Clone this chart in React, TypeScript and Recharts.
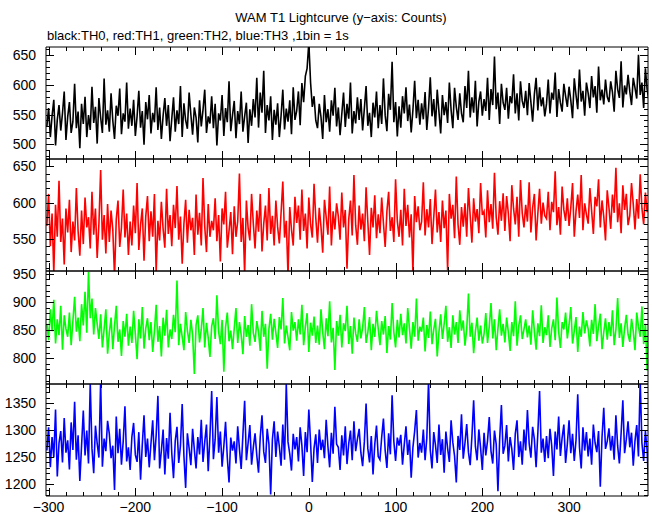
import React from "react";
import { Line, LineChart, ReferenceLine, XAxis, YAxis } from "recharts";

// counts per 2 s, starting at t = -302 s
const blackTH0 = [
  530, 561, 512, 548, 575, 498, 541, 566, 523, 552, 589, 507,
  546, 571, 519, 538, 602, 527, 555, 493, 568, 534, 580, 512,
  549, 524, 597, 536, 563, 501, 578, 545, 519, 611, 533, 557,
  521, 586, 540, 509, 565, 548, 594, 517, 552, 538, 604, 526,
  560, 531, 575, 514, 547, 590, 528, 556, 499, 571, 542, 583,
  518, 553, 537, 596, 524, 562, 509, 548, 578, 531, 566, 505,
  543, 579, 521, 557, 534, 598, 512, 569, 540, 526, 587, 550,
  516, 562, 545, 503, 574, 530, 558, 592, 519, 547, 535, 581,
  527, 568, 498, 552, 540, 583, 514, 561, 537, 606, 522, 549,
  573, 510, 556, 534, 589, 521, 547, 570, 502, 559, 531, 576,
  545, 612, 528, 587, 553, 624, 519, 566, 540, 581, 507, 558,
  533, 569, 512, 548, 592, 525, 560, 538, 574, 517, 596, 541,
  556, 589, 532, 603, 571, 615, 628, 672, 604, 563, 581, 540,
  527, 568, 546, 509, 583, 537, 559, 521, 574, 548, 595, 530,
  562, 515, 551, 587, 529, 568, 543, 604, 518, 556, 535, 579,
  541, 576, 523, 560, 598, 531, 553, 512, 570, 545, 589, 527,
  566, 534, 611, 549, 522, 585, 558, 639, 537, 571, 513, 564,
  528, 581, 552, 596, 539, 567, 520, 558, 607, 544, 575, 533,
  569, 542, 588, 524, 561, 613, 547, 576, 530, 592, 555, 518,
  583, 549, 571, 536, 604, 558, 527, 595, 563, 541, 586, 552,
  537, 598, 561, 624, 545, 579, 553, 607, 530, 572, 589, 548,
  576, 556, 612, 541, 593, 566, 648, 559, 587, 534, 602, 570,
  558, 595, 543, 581, 569, 618, 552, 586, 540, 606, 573, 561,
  590, 549, 603, 571, 538, 584, 612, 557, 596, 564, 579, 547,
  568, 609, 552, 587, 575, 621, 546, 593, 570, 555, 602, 581,
  563, 597, 574, 544, 611, 583, 559, 626, 572, 590, 548, 604,
  586, 561, 615, 579, 598, 553, 631, 574, 592, 567, 609, 580,
  571, 606, 588, 555, 624, 593, 578, 640, 562, 599, 584, 617,
  589, 566, 612, 595, 577, 651, 583, 604, 561, 628, 592, 575,
];

const redTH1 = [
  568, 612, 540, 585, 503, 597, 553, 630, 546, 578, 515, 592,
  559, 604, 532, 574, 548, 620, 561, 527, 589, 543, 607, 566,
  580, 537, 615, 556, 592, 524, 571, 645, 549, 583, 530, 598,
  546, 589, 563, 498, 577, 603, 539, 566, 618, 552, 585, 528,
  574, 541, 596, 558, 627, 535, 569, 592, 520, 581, 609, 547,
  588, 553, 612, 505, 575, 548, 601, 564, 538, 619, 557, 583,
  540, 597, 565, 623, 549, 581, 516, 571, 604, 545, 590, 562,
  579, 528, 611, 556, 586, 541, 634, 567, 532, 598, 553, 575,
  562, 606, 547, 583, 519, 592, 570, 615, 538, 561, 587, 529,
  595, 553, 574, 640, 546, 579, 502, 603, 565, 548, 612, 571,
  537, 589, 560, 612, 533, 571, 596, 548, 620, 557, 582, 541,
  603, 567, 544, 586, 629, 552, 575, 500, 594, 563, 541, 608,
  572, 596, 549, 618, 561, 585, 537, 607, 570, 552, 626, 579,
  545, 593, 567, 531, 604, 580, 556, 622, 541, 588, 563, 599,
  581, 549, 614, 566, 590, 509, 577, 603, 555, 638, 569, 542,
  596, 563, 585, 547, 621, 574, 528, 593, 566, 610, 551, 584,
  558, 607, 572, 539, 588, 615, 561, 580, 546, 632, 575, 553,
  590, 541, 619, 568, 597, 552, 584, 504, 609, 573, 595, 562,
  574, 628, 555, 591, 566, 605, 543, 580, 618, 559, 587, 546,
  603, 565, 589, 507, 612, 578, 597, 551, 636, 570, 542, 594,
  567, 599, 553, 620, 582, 545, 606, 574, 591, 558, 627, 583,
  588, 552, 617, 573, 598, 564, 641, 580, 556, 602, 575, 613,
  561, 609, 585, 547, 624, 592, 570, 608, 553, 631, 586, 566,
  597, 574, 628, 559, 593, 612, 548, 585, 619, 571, 600, 582,
  578, 615, 562, 601, 587, 643, 569, 594, 556, 622, 590, 575,
  606, 568, 593, 627, 553, 588, 611, 579, 638, 562, 599, 584,
  571, 620, 589, 557, 608, 595, 632, 566, 603, 581, 548, 617,
  593, 564, 611, 586, 648, 573, 599, 558, 624, 590, 612, 569,
  582, 627, 598, 563, 605, 578, 639, 592, 570, 614, 587, 601,
];

const greenTH2 = [
  861, 832, 887, 848, 904, 826, 869, 841, 893, 815, 876, 852,
  838, 881, 823, 866, 909, 847, 872, 830, 896, 858, 918, 845,
  953, 871, 906, 842, 889, 861, 834, 878, 819, 852, 887, 808,
  845, 872, 816, 858, 893, 829, 851, 804, 866, 838, 879, 822,
  856, 827, 884, 843, 798, 869, 835, 891, 817, 853, 871, 832,
  864, 811, 848, 895, 829, 857, 803, 872, 840, 886, 819, 851,
  834, 877, 846, 938, 823, 861, 838, 814, 882, 849, 827, 868,
  842, 772, 859, 876, 828, 851, 889, 819, 863, 836, 802, 857,
  871, 834, 912, 847, 825, 868, 776, 855, 881, 830, 849, 816,
  853, 889, 827, 864, 842, 807, 875, 838, 859, 822, 896, 845,
  829, 866, 847, 813, 884, 838, 861, 781, 852, 879, 833, 870,
  845, 818, 873, 851, 907, 826, 858, 837, 814, 882, 849, 864,
  831, 869, 842, 895, 823, 856, 880, 811, 863, 840, 874, 827,
  858, 824, 887, 846, 816, 871, 839, 901, 828, 854, 779, 866,
  840, 877, 819, 862, 848, 893, 825, 857, 808, 872, 844, 829,
  869, 835, 854, 891, 827, 846, 873, 814, 861, 838, 884, 852,
  823, 866, 842, 875, 809, 857, 833, 898, 846, 819, 868, 837,
  879, 841, 862, 826, 889, 853, 817, 864, 838, 906, 831, 856,
  847, 872, 812, 859, 836, 883, 825, 851, 870, 803, 846, 878,
  834, 861, 893, 829, 855, 818, 876, 842, 864, 827, 885, 849,
  867, 822, 851, 915, 838, 863, 809, 847, 872, 831, 858, 826,
  843, 880, 827, 856, 898, 835, 869, 814, 853, 887, 840, 861,
  828, 872, 846, 813, 864, 839, 901, 822, 857, 876, 834, 851,
  869, 837, 858, 824, 885, 848, 815, 862, 839, 894, 827, 855,
  841, 876, 820, 853, 869, 832, 908, 847, 818, 864, 851, 881,
  835, 859, 891, 826, 848, 873, 811, 856, 838, 882, 844, 867,
  852, 821, 868, 843, 896, 830, 857, 879, 816, 846, 871, 833,
  864, 839, 885, 823, 851, 907, 836, 862, 820, 853, 877, 842,
  829, 870, 848, 814, 881, 856, 838, 892, 825, 861, 778, 847,
];

const blueTH3 = [
  1262, 1305, 1231, 1287, 1249, 1338, 1214, 1276, 1298, 1240, 1322, 1258,
  1281, 1227, 1314, 1263, 1352, 1245, 1290, 1206, 1271, 1336, 1253, 1299,
  1238, 1386, 1266, 1220, 1308, 1275, 1249, 1391, 1232, 1284, 1261, 1317,
  1293, 1248, 1271, 1189, 1325, 1257, 1302, 1236, 1279, 1344, 1242, 1268,
  1226, 1287, 1313, 1254, 1241, 1296, 1208, 1273, 1327, 1250, 1284, 1231,
  1275, 1318, 1244, 1290, 1363, 1229, 1262, 1301, 1218, 1285, 1247, 1332,
  1257, 1211, 1280, 1306, 1239, 1271, 1348, 1252, 1193, 1294, 1266, 1235,
  1302, 1264, 1229, 1287, 1255, 1319, 1241, 1278, 1310, 1224, 1289, 1372,
  1246, 1283, 1361, 1258, 1297, 1232, 1270, 1315, 1249, 1203, 1286, 1262,
  1279, 1238, 1307, 1265, 1228, 1291, 1354, 1244, 1276, 1309, 1236, 1268,
  1294, 1253, 1221, 1288, 1327, 1260, 1239, 1302, 1274, 1181, 1283, 1316,
  1250, 1297, 1269, 1234, 1310, 1245, 1385, 1278, 1256, 1225, 1293, 1264,
  1287, 1242, 1305, 1271, 1215, 1296, 1259, 1338, 1277, 1204, 1266, 1292,
  1239, 1301, 1263, 1282, 1248, 1319, 1270, 1231, 1295, 1256, 1343, 1274,
  1268, 1226, 1290, 1253, 1307, 1237, 1275, 1299, 1244, 1316, 1261, 1283,
  1302, 1258, 1233, 1278, 1349, 1266, 1240, 1289, 1218, 1273, 1308, 1251,
  1245, 1287, 1321, 1262, 1230, 1294, 1255, 1364, 1279, 1243, 1286, 1271,
  1291, 1236, 1273, 1307, 1254, 1282, 1212, 1268, 1298, 1337, 1249, 1276,
  1258, 1301, 1244, 1285, 1390, 1263, 1229, 1296, 1272, 1239, 1310, 1254,
  1283, 1221, 1297, 1266, 1241, 1318, 1277, 1252, 1203, 1289, 1263, 1329,
  1247, 1276, 1311, 1259, 1235, 1288, 1355, 1270, 1244, 1301, 1267, 1226,
  1295, 1253, 1280, 1324, 1261, 1238, 1299, 1274, 1187, 1283, 1346, 1256,
  1271, 1309, 1242, 1287, 1265, 1226, 1293, 1318, 1250, 1279, 1236, 1301,
  1262, 1337, 1275, 1249, 1306, 1283, 1231, 1294, 1372, 1258, 1284, 1241,
  1289, 1248, 1302, 1271, 1215, 1297, 1264, 1325, 1252, 1286, 1310, 1239,
  1274, 1318, 1257, 1293, 1243, 1281, 1366, 1268, 1229, 1305, 1262, 1296,
  1251, 1284, 1236, 1310, 1276, 1259, 1298, 1195, 1287, 1341, 1265, 1279,
  1303, 1262, 1289, 1245, 1327, 1271, 1238, 1294, 1355, 1257, 1283, 1316,
  1268, 1295, 1234, 1280, 1309, 1251, 1391, 1276, 1243, 1298, 1262, 1181,
];

const T0 = -302;
const BIN = 2;

const xMajor = [-300, -200, -100, 0, 100, 200, 300];
const xMinorStep = 20;

const th0Major = [500, 550, 600, 650];
const th1Major = [550, 600, 650];
const th2Major = [800, 850, 900, 950];
const th3Major = [1200, 1250, 1300, 1350];

const FONT = "'Liberation Sans', Arial, Helvetica, sans-serif";
const PAD = 12; // room above/below each plot so edge labels are not clipped
const PLOT_L = 46;
const PLOT_W = 602;
const MAJOR_PX = 8;
const MINOR_PX = 4;

const range = (a: number, b: number, s: number) => {
  const out: number[] = [];
  for (let v = a; v <= b; v += s) out.push(v);
  return out;
};

const rows = blackTH0.map((v, i) => ({
  t: T0 + i * BIN,
  th0: v,
  th1: redTH1[i],
  th2: greenTH2[i],
  th3: blueTH3[i],
}));

const X_DOMAIN: [number, number] = [-303, 391];
const xTicks = range(-300, 380, xMinorStep);

interface PanelDef {
  top: number;
  plotHeight: number;
  dataKey: string;
  color: string;
  domain: [number, number];
  majors: number[];
  labels?: boolean;
}

const panels: PanelDef[] = [
  { top: 47, plotHeight: 112, dataKey: "th0", color: "#000000", domain: [475, 664], majors: th0Major },
  { top: 159, plotHeight: 112, dataKey: "th1", color: "#ff0000", domain: [506, 660], majors: th1Major },
  { top: 271, plotHeight: 113, dataKey: "th2", color: "#00ff00", domain: [754, 955], majors: th2Major },
  { top: 384, plotHeight: 112, dataKey: "th3", color: "#0000ff", domain: [1178, 1385], majors: th3Major, labels: true },
];

const yTicksOf = (d: [number, number]) => range(Math.ceil(d[0] / 10) * 10, d[1], 10);

function XLabel(props: any) {
  const { x, y, payload } = props;
  if (!xMajor.includes(payload.value)) return <g />;
  return (
    <text x={x} y={Number(y) + 16} textAnchor="middle" fontSize={14} fontFamily={FONT} fill="#000">
      {payload.value < 0 ? "\u2212" + Math.abs(payload.value) : payload.value}
    </text>
  );
}

function YLabel(props: any) {
  const { x, y, payload, majors } = props;
  if (!majors.includes(payload.value)) return <g />;
  return (
    <text x={Number(x) - 10} y={y} dy="0.36em" textAnchor="end" fontSize={14} fontFamily={FONT} fill="#000">
      {payload.value}
    </text>
  );
}

// inward tick marks on all four sides of every panel
function TickOverlay() {
  const px = (v: number) => PLOT_L + (PLOT_W * (v - X_DOMAIN[0])) / (X_DOMAIN[1] - X_DOMAIN[0]);
  let d = "";
  panels.forEach((p) => {
    const py = (v: number) => p.top + (p.plotHeight * (p.domain[1] - v)) / (p.domain[1] - p.domain[0]);
    const bottom = p.top + p.plotHeight;
    xTicks.forEach((v) => {
      const l = xMajor.includes(v) ? MAJOR_PX : MINOR_PX;
      const x = Math.round(px(v)) + 0.5;
      d += `M${x},${bottom}v${-l}M${x},${p.top}v${l}`;
    });
    yTicksOf(p.domain).forEach((v) => {
      const l = p.majors.includes(v) ? MAJOR_PX : MINOR_PX;
      const y = Math.round(py(v)) + 0.5;
      d += `M${PLOT_L},${y}h${l}M${PLOT_L + PLOT_W},${y}h${-l}`;
    });
  });
  return (
    <svg width={652} height={515} style={{ position: "absolute", left: 0, top: 0, pointerEvents: "none" }}>
      <path d={d} stroke="#000" strokeWidth={1} fill="none" />
    </svg>
  );
}

function Panel({ top, plotHeight, dataKey, color, domain, majors, labels }: PanelDef) {
  const axisH = labels ? 24 : 0;
  const yTicks = yTicksOf(domain);
  const seg = (key: string, x1: number, y1: number, x2: number, y2: number) => (
    <ReferenceLine
      key={key}
      xAxisId="b"
      yAxisId="l"
      ifOverflow="visible"
      stroke="#000"
      strokeWidth={1}
      segment={[{ x: x1, y: y1 }, { x: x2, y: y2 }]}
    />
  );
  return (
    <div style={{ position: "absolute", left: 0, top: top - PAD }}>
      <LineChart
        width={652}
        height={plotHeight + axisH + PAD * 2}
        data={rows}
        margin={{ top: PAD, right: 4, left: 0, bottom: PAD }}
      >
        <XAxis
          xAxisId="b"
          dataKey="t"
          type="number"
          domain={X_DOMAIN}
          allowDataOverflow
          ticks={xTicks}
          interval={0}
          height={axisH}
          tickSize={0}
          tickMargin={0}
          tickLine={false}
          axisLine={false}
          tick={labels ? (p: any) => <XLabel {...p} /> : false}
        />
        <YAxis
          yAxisId="l"
          type="number"
          domain={domain}
          allowDataOverflow
          ticks={yTicks}
          interval={0}
          width={46}
          tickSize={0}
          tickMargin={0}
          tickLine={false}
          axisLine={false}
          tick={(p: any) => <YLabel {...p} majors={majors} />}
        />
        <Line
          xAxisId="b"
          yAxisId="l"
          dataKey={dataKey}
          type="linear"
          stroke={color}
          strokeWidth={1.6}
          dot={false}
          isAnimationActive={false}
        />
        {seg("fl", X_DOMAIN[0], domain[0], X_DOMAIN[0], domain[1])}
        {seg("fr", X_DOMAIN[1], domain[0], X_DOMAIN[1], domain[1])}
        {seg("fb", X_DOMAIN[0], domain[0], X_DOMAIN[1], domain[0])}
        {seg("ft", X_DOMAIN[0], domain[1], X_DOMAIN[1], domain[1])}
      </LineChart>
    </div>
  );
}

export default function App() {
  return (
    <div
      style={{
        position: "absolute",
        left: 0,
        top: 0,
        width: 652,
        height: 515,
        background: "#fff",
        overflow: "hidden",
      }}
    >
      <svg width={652} height={46} style={{ position: "absolute", left: 0, top: 0 }}>
        <text x={341} y={22} textAnchor="middle" fontSize={13} fontFamily={FONT} fill="#000">
          WAM T1 Lightcurve (y−axis: Counts)
        </text>
        <text x={47} y={40} fontSize={13} fontFamily={FONT} fill="#000">
          black:TH0, red:TH1, green:TH2, blue:TH3 ,1bin = 1s
        </text>
      </svg>
      {panels.map((p) => (
        <Panel key={p.dataKey} {...p} />
      ))}
      <TickOverlay />
    </div>
  );
}
